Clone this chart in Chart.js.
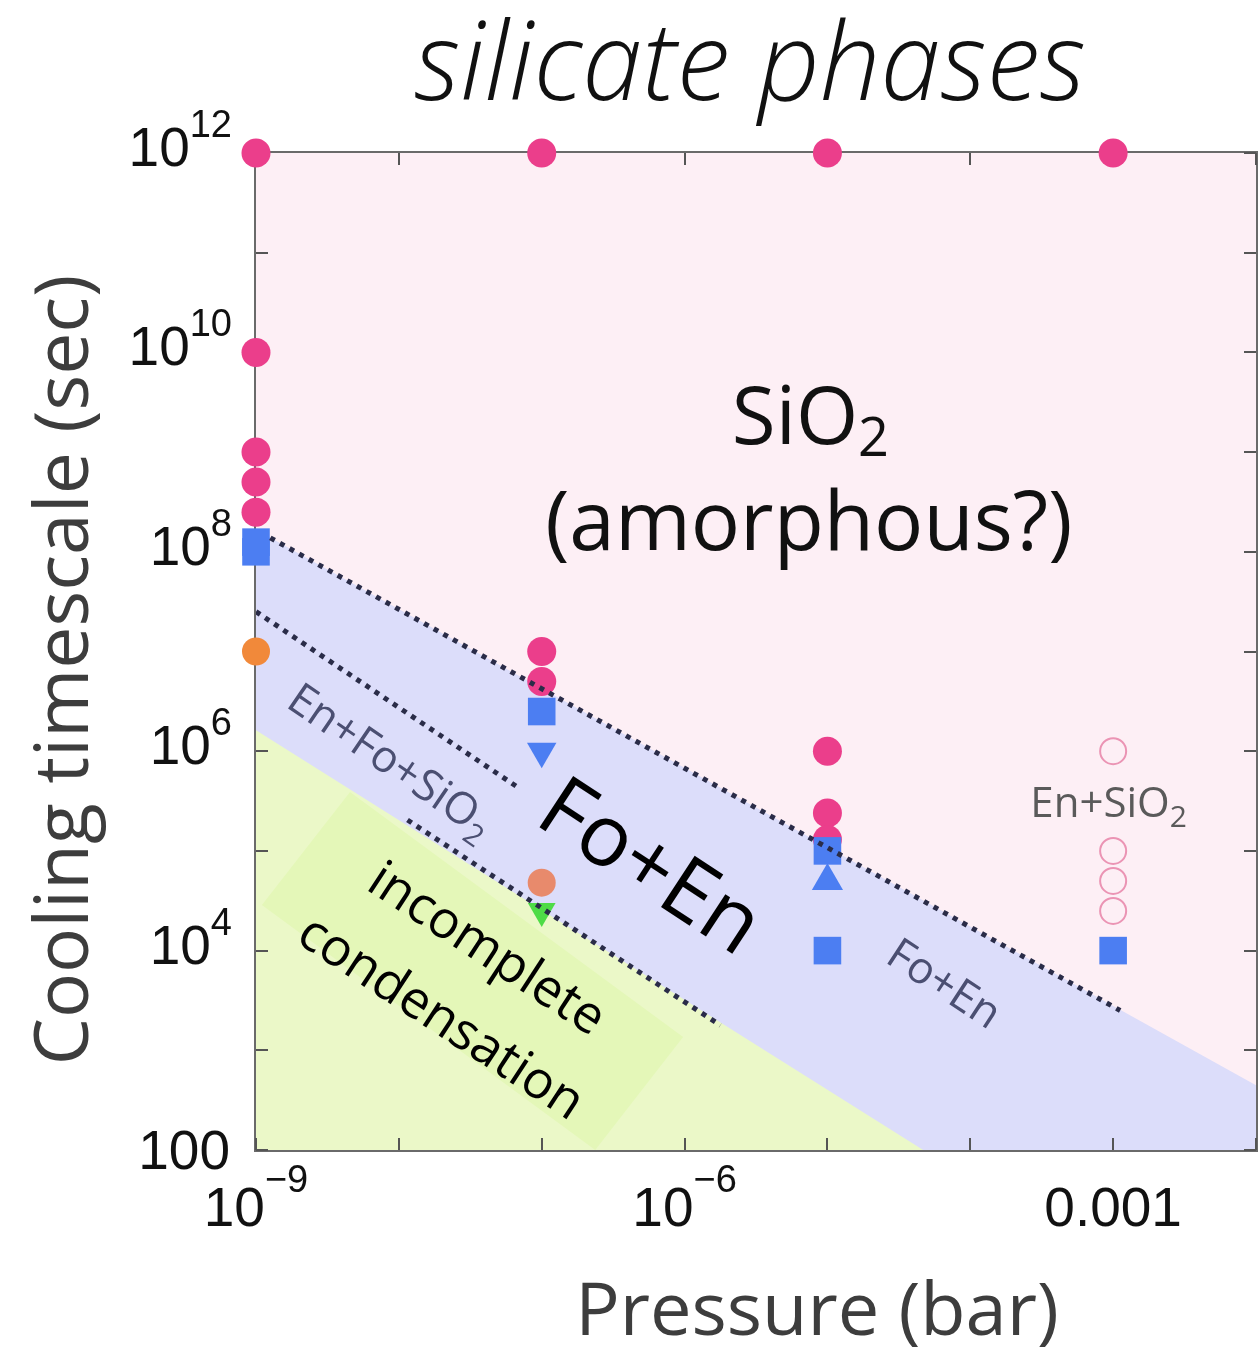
<!DOCTYPE html>
<html>
<head>
<meta charset="utf-8">
<script src="https://cdn.jsdelivr.net/npm/chart.js@4.4.1/dist/chart.umd.min.js"></script>
<style>
  html, body { margin: 0; padding: 0; background: #fff; overflow: hidden; }
  #wrap { position: relative; width: 1258px; height: 1353px; }
</style>
</head>
<body>
<div id="wrap"><canvas id="chart"></canvas></div>
<script>
// cooling timescale (s) against pressure (bar)
const sio2Pressure = [1e-9, 1e-9, 1e-9, 1e-9, 1e-9, 1e-7, 1e-7, 1e-7, 1e-5, 1e-5, 1e-5, 1e-5, 1e-3];
const sio2Time = [1e12, 1e10, 1e9, 5e8, 2.5e8, 1e12, 1e7, 5e6, 1e12, 1e6, 2.4e5, 1.3e5, 1e12];

const foEnPressure = [1e-9, 1e-9, 1e-7, 1e-5, 1e-5, 1e-3];
const foEnTime = [1.25e8, 1e8, 2.5e6, 1e5, 1e4, 1e4];

const foEnDownPressure = [1e-7];
const foEnDownTime = [1e6];
const foEnUpPressure = [1e-5];
const foEnUpTime = [5e4];

const orangePressure = [1e-9];
const orangeTime = [1e7];
const salmonPressure = [1e-7];
const salmonTime = [4.8e4];
const greenPressure = [1e-7];
const greenTime = [2.5e4];

const enSio2Pressure = [1e-3, 1e-3, 1e-3, 1e-3];
const enSio2Time = [1e6, 1e5, 5e4, 2.5e4];

// phase boundaries
const bandTopP = [1e-9, 1e-2];
const bandTopT = [1.66e8, 447];
const incompleteP = [1e-9, 4.68e-5];
const incompleteT = [1.62e6, 100];
const highlightTopP = [1.1e-9, 4.55e-9, 9.77e-7];
const highlightTopT = [2.86e4, 3.9e5, 1.36e3];
const highlightLowP = [1.1e-9, 2.37e-7, 9.77e-7];
const highlightLowT = [2.86e4, 100, 1.36e3];

// dotted lines
const lineAP = [1.26e-9, 1.12e-3];
const lineAT = [1.38e8, 2.51e3];
const lineBP = [1e-9, 6.76e-8];
const lineBT = [2.51e7, 4.37e5];
const lineCP = [1.15e-8, 1.78e-6];
const lineCT = [2.04e5, 1.78e3];

// axes
const xTicks = [1e-9, 1e-8, 1e-7, 1e-6, 1e-5, 1e-4, 1e-3, 1e-2];
const xLabels = { '-9': ['10', '\u22129'], '-6': ['10', '\u22126'], '-3': ['0.001', ''] };
const yTicks = [1e2, 1e3, 1e4, 1e5, 1e6, 1e7, 1e8, 1e9, 1e10, 1e11, 1e12];
const yLabels = { '12': ['10', '12'], '10': ['10', '10'], '8': ['10', '8'], '6': ['10', '6'], '4': ['10', '4'], '2': ['100', ''] };

const xy = (xs, ys) => xs.map((x, i) => ({ x: x, y: ys[i] }));

function points(xs, ys, color, style, radius, order, extra) {
  return Object.assign({
    data: xy(xs, ys),
    pointStyle: style,
    pointRadius: radius,
    pointHoverRadius: radius,
    pointBackgroundColor: color,
    pointBorderColor: color,
    pointBorderWidth: 0,
    clip: false,
    order: order,
  }, extra || {});
}

function dotted(xs, ys) {
  return {
    type: 'line',
    data: xy(xs, ys),
    borderColor: '#2a2c48',
    borderWidth: 5,
    borderDash: [5, 6],
    pointRadius: 0,
    fill: false,
    order: 10,
  };
}

function runs(ctx, parts, x, y, align, angle, shift, color) {
  let w = 0;
  parts.forEach(p => { ctx.font = p[1]; w += ctx.measureText(p[0]).width; });
  ctx.save();
  ctx.translate(x, y);
  ctx.rotate(angle || 0);
  ctx.fillStyle = color;
  ctx.textAlign = 'left';
  ctx.textBaseline = 'alphabetic';
  let cx = align === 'right' ? -w : align === 'center' ? -w / 2 : 0;
  parts.forEach(p => {
    ctx.font = p[1];
    ctx.fillText(p[0], cx, (shift || 0) + (p[2] || 0));
    cx += ctx.measureText(p[0]).width;
  });
  ctx.restore();
}

const OS = '"Open Sans", sans-serif';
const notes = [
  { p: 7.6e-6, t: 2.3e9, a: 0, s: 28, c: '#111', parts: [['SiO', '80px ' + OS], ['2', '54px ' + OS, 12]] },
  { p: 7.4e-6, t: 2.0e8, a: 0, s: 28, c: '#111', parts: [['(amorphous?)', '82px ' + OS]] },
  { p: 5.9e-7, t: 7.2e4, a: 0.58, s: 30, c: '#000', parts: [['Fo+En', '500 86px ' + OS]] },
  { p: 8.9e-9, t: 8.2e5, a: 0.6, s: 16, c: '#4b4f72', parts: [['En+Fo+SiO', '44px ' + OS], ['2', '30px ' + OS, 10]] },
  { p: 4.2e-8, t: 1.07e4, a: 0.58, s: 18, c: '#000', parts: [['incomplete', '52px ' + OS]] },
  { p: 2.0e-8, t: 2.2e3, a: 0.58, s: 18, c: '#000', parts: [['condensation', '52px ' + OS]] },
  { p: 6.6e-5, t: 4.7e3, a: 0.58, s: 15, c: '#4b4f72', parts: [['Fo+En', '44px ' + OS]] },
  { p: 9.3e-4, t: 3.1e5, a: 0, s: 15, c: '#5a5a5a', parts: [['En+SiO', '42px ' + OS], ['2', '30px ' + OS, 10]] },
];

const phasePlot = {
  id: 'phasePlot',
  beforeDatasetsDraw(chart) {
    const { ctx, chartArea: a } = chart;
    ctx.save();
    ctx.fillStyle = '#fdeff5';
    ctx.fillRect(a.left, a.top, a.right - a.left, a.bottom - a.top);
    ctx.restore();
  },
  beforeDatasetDraw(chart, args) {
    if (!chart.data.datasets[args.index].frameBefore) return;
    const { ctx, chartArea: a, scales } = chart;
    ctx.save();
    ctx.strokeStyle = '#6a6a6a';
    ctx.lineWidth = 2;
    ctx.strokeRect(a.left - 1, a.top - 1, a.right - a.left + 2, a.bottom - a.top + 2);
    ctx.strokeStyle = '#555';
    ctx.beginPath();
    xTicks.forEach(v => {
      const px = Math.round(scales.x.getPixelForValue(v));
      ctx.moveTo(px, a.bottom); ctx.lineTo(px, a.bottom - 12);
      ctx.moveTo(px, a.top); ctx.lineTo(px, a.top + 12);
    });
    yTicks.forEach(v => {
      const py = Math.round(scales.y.getPixelForValue(v));
      ctx.moveTo(a.left, py); ctx.lineTo(a.left + 12, py);
      ctx.moveTo(a.right, py); ctx.lineTo(a.right - 12, py);
    });
    ctx.stroke();
    ctx.restore();
  },
  afterDatasetsDraw(chart) {
    const { ctx, chartArea: a, scales } = chart;
    const tf = '55px "Liberation Sans", Arial, sans-serif';
    const sf = '38px "Liberation Sans", Arial, sans-serif';
    xTicks.forEach(v => {
      const lab = xLabels[Math.round(Math.log10(v))];
      if (!lab) return;
      const px = scales.x.getPixelForValue(v);
      runs(ctx, [[lab[0], tf], [lab[1], sf, -34]], px, a.bottom + 76, 'center', 0, 0, '#111');
    });
    yTicks.forEach(v => {
      const lab = yLabels[Math.round(Math.log10(v))];
      if (!lab) return;
      const py = scales.y.getPixelForValue(v);
      if (lab[1]) runs(ctx, [[lab[0], tf], [lab[1], sf, -29]], 232, py + 13, 'right', 0, 0, '#111');
      else runs(ctx, [[lab[0], tf]], 230, py + 19, 'right', 0, 0, '#111');
    });
    notes.forEach(n => {
      runs(ctx, n.parts, scales.x.getPixelForValue(n.p), scales.y.getPixelForValue(n.t), 'center', n.a, n.s, n.c);
    });
    // titles
    runs(ctx, [['silicate phases', 'italic 300 108px ' + OS]], 750, 100, 'center', 0, 0, '#111');
    runs(ctx, [['Pressure (bar)', '74px ' + OS]], 817, 1335, 'center', 0, 0, '#3d3d3d');
    runs(ctx, [['Cooling timescale (sec)', '75px ' + OS]], 88, 670, 'center', -Math.PI / 2, 0, '#3d3d3d');
  },
};

const datasets = [
  { type: 'line', data: xy(bandTopP, bandTopT), borderWidth: 0, pointRadius: 0, fill: 'start', backgroundColor: '#dcddfa', order: 100 },
  { type: 'line', data: xy(incompleteP, incompleteT), borderWidth: 0, pointRadius: 0, fill: 'start', backgroundColor: '#ebf8c8', order: 90 },
  { type: 'line', data: xy(highlightTopP, highlightTopT), borderWidth: 0, pointRadius: 0, fill: '+1', backgroundColor: '#e4f7b8', order: 80 },
  { type: 'line', data: xy(highlightLowP, highlightLowT), borderWidth: 0, pointRadius: 0, fill: false, order: 81 },
  points(sio2Pressure, sio2Time, '#eb3e8b', 'circle', 14.5, 50, { frameBefore: true }),
  points(enSio2Pressure, enSio2Time, 'rgba(0,0,0,0)', 'circle', 13, 49, { pointBorderColor: '#eb94b4', pointBorderWidth: 2 }),
  points(orangePressure, orangeTime, '#f1893a', 'circle', 14, 45),
  points(salmonPressure, salmonTime, '#e88a6c', 'circle', 14, 45),
  points(greenPressure, greenTime, '#4edc46', 'triangle', 16, 44, { pointRotation: 180 }),
  points(foEnPressure, foEnTime, '#4c7ef2', 'rect', 19.5, 40),
  points(foEnDownPressure, foEnDownTime, '#4c7ef2', 'triangle', 17, 40, { pointRotation: 180 }),
  points(foEnUpPressure, foEnUpTime, '#4c7ef2', 'triangle', 18, 40),
  dotted(lineAP, lineAT),
  dotted(lineBP, lineBT),
  dotted(lineCP, lineCT),
];

new Chart(document.getElementById('chart'), {
  type: 'scatter',
  data: { datasets: datasets },
  options: {
    responsive: true,
    maintainAspectRatio: false,
    animation: false,
    layout: { autoPadding: false, padding: { left: 256, right: 2, top: 153, bottom: 203 } },
    scales: {
      x: { type: 'logarithmic', min: 1e-9, max: 1e-2, display: false },
      y: { type: 'logarithmic', min: 100, max: 1e12, display: false },
    },
    plugins: { legend: { display: false }, tooltip: { enabled: false } },
  },
  plugins: [phasePlot],
});
</script>
</body>
</html>
